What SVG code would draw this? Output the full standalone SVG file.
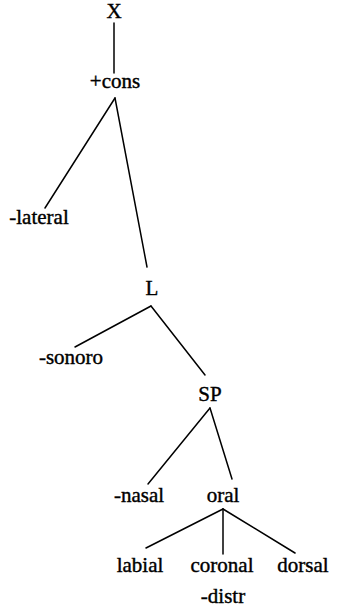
<svg xmlns="http://www.w3.org/2000/svg" width="341" height="614" viewBox="0 0 341 614">
  <style>
    .lbl { font-family: "Liberation Serif", "Times New Roman", serif; font-size: 21px; fill: #000; stroke: #000; stroke-width: 0.4; text-anchor: middle; }
    .edge { stroke: #000; stroke-width: 1.5; fill: none; stroke-linecap: round; }
  </style>
  <rect width="341" height="614" fill="#fff"/>
  <g id="connectors">
    <line class="edge" x1="114" y1="23" x2="114" y2="73"/>
    <line class="edge" x1="115" y1="98" x2="45" y2="208"/>
    <line class="edge" x1="115" y1="98" x2="147" y2="267"/>
    <line class="edge" x1="151" y1="306" x2="75" y2="347"/>
    <line class="edge" x1="151" y1="306" x2="205" y2="375"/>
    <line class="edge" x1="210" y1="408" x2="148" y2="484"/>
    <line class="edge" x1="210" y1="408" x2="232" y2="479"/>
    <line class="edge" x1="223" y1="509" x2="146" y2="548"/>
    <line class="edge" x1="223" y1="509" x2="223" y2="554"/>
    <line class="edge" x1="223" y1="509" x2="295" y2="553"/>
  </g>
  <g id="node-x"><text class="lbl" x="114" y="18">X</text></g>
  <g id="node-cons"><text class="lbl" x="115" y="88">+cons</text></g>
  <g id="node-lateral"><text class="lbl" x="39" y="224">-lateral</text></g>
  <g id="node-l"><text class="lbl" x="152" y="295">L</text></g>
  <g id="node-sonoro"><text class="lbl" x="71" y="364">-sonoro</text></g>
  <g id="node-sp"><text class="lbl" x="210" y="401">SP</text></g>
  <g id="node-nasal"><text class="lbl" x="139" y="502">-nasal</text></g>
  <g id="node-oral"><text class="lbl" x="223" y="502">oral</text></g>
  <g id="node-labial"><text class="lbl" x="140" y="572">labial</text></g>
  <g id="node-coronal"><text class="lbl" x="222" y="572">coronal</text></g>
  <g id="node-distr"><text class="lbl" x="223" y="603">-distr</text></g>
  <g id="node-dorsal"><text class="lbl" x="303" y="572">dorsal</text></g>
</svg>
